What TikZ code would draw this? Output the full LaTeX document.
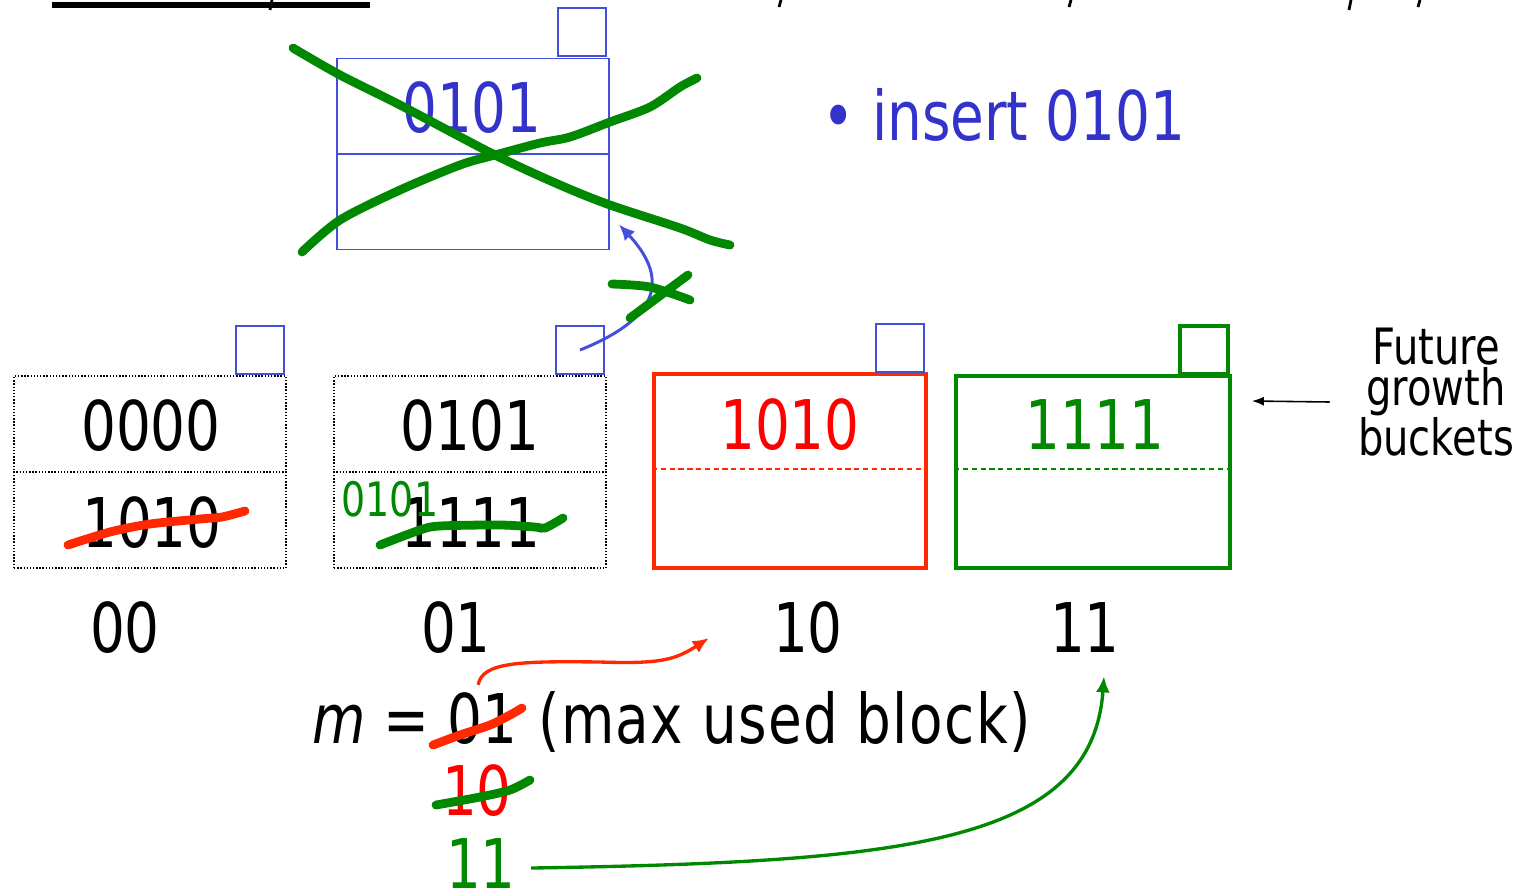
\documentclass[tikz,border=0pt]{standalone}
\usepackage{fontspec}
\setmainfont{DejaVu Sans}[FakeStretch=0.8]
\usetikzlibrary{arrows.meta, positioning, calc}
\definecolor{blu}{RGB}{51,51,204}
\definecolor{bluln}{RGB}{68,80,220}
\definecolor{redd}{RGB}{255,40,0}
\definecolor{grn}{RGB}{0,136,0}
\newcommand{\bkfont}{\fontsize{39}{41}\selectfont}
\newcommand{\smfont}{\fontsize{27}{28}\selectfont}
\newcommand{\futfont}{\fontsize{28.5}{21.5}\selectfont}

\begin{document}
\begin{tikzpicture}[x=0.02cm, y=-0.02cm,
  bkt/.style={draw, minimum width=5.44cm, minimum height=3.84cm, inner sep=0pt},
  ptr/.style={draw, bluln, line width=1.2pt, minimum size=0.96cm, inner sep=0pt},
  dig/.style={font=\bkfont, inner sep=0pt, anchor=base},
  scr/.style={line width=5pt, line cap=round},
  arr/.style={-{Latex[length=3.2mm, width=2.8mm]}, line width=1.9pt}]
\useasboundingbox (0,0) rectangle (1522,894);

% cut-off title at the top
\fill (52,2) rectangle (370,8);
\foreach \tx/\th in {272/10, 781/7, 1071/7, 1351/10, 1420/7}
  \draw[line width=1.6pt] (\tx,0) -- (\tx-2,\th);

% overflow bucket (deleted)
\node[bkt, bluln, line width=1pt, minimum height=3.82cm] (top) at (473,154) {};
\draw[bluln, line width=1pt] (top.west) -- (top.east);
\node[ptr, line width=1pt] (ptop) at (582,32) {};
\node[dig, blu] (ktop) at (472,132) {0101};

% buckets
\node[bkt, densely dotted, line width=0.8pt] (b00) at (150,472) {};
\draw[densely dotted, line width=0.8pt] (b00.west) -- (b00.east);
\node[ptr] (p00) at (260,350) {};
\node[bkt, densely dotted, line width=0.8pt] (b01) at (470,472) {};
\draw[densely dotted, line width=0.8pt] (b01.west) -- (b01.east);
\node[ptr] (p01) at (580,350) {};
\node[bkt, redd, line width=2.2pt, minimum height=3.88cm] (b10) at (790,471) {};
\draw[redd, line width=1pt, dash pattern=on 3pt off 2pt] ([yshift=0.04cm]b10.west) -- ([yshift=0.04cm]b10.east);
\node[ptr] (p10) at (900,348) {};
\node[bkt, grn, line width=2.1pt, minimum width=5.48cm] (b11) at (1093,472) {};
\draw[grn, line width=1pt, dash pattern=on 3pt off 2pt] ([yshift=0.06cm]b11.west) -- ([yshift=0.06cm]b11.east);
\node[ptr, grn, line width=2pt] (p11) at (1204,350) {};

\node[dig] (k00a) at (151,450) {0000};
\node[dig] (k00b) at (152,547) {1010};
\node[dig] (k01a) at (470,450) {0101};
\node[dig] (k01b) at (471,547) {1111};
\node[dig, font=\smfont, grn] (k01c) at (390,516) {0101};
\node[dig, red] (k10a) at (790,449) {1010};
\node[dig, grn] (k11a) at (1095,449) {1111};

% bucket numbers
\node[dig] (l00) at (125,652) {00};
\node[dig] (l01) at (456,652) {01};
\node[dig] (l10) at (808,652) {10};
\node[dig] (l11) at (1085,652) {11};

% m line
\node[dig, anchor=base west] (meq) at (312,743) {\textit{m} =};
\node[dig, anchor=base west] (m01) at (447,743) {01};
\node[dig, anchor=base west, font=\bkfont\addfontfeature{LetterSpace=2}] (mtxt) at (538,743) {(max used block)};
\node[dig, red] (m10) at (477,815) {10};
\node[dig, grn] (m11) at (481,888) {11};

\node[font=\futfont, align=center, inner sep=0pt] (fut) at (1436,392) {Future\\growth\\buckets};
\node[font=\bkfont, blu, anchor=base west, inner sep=0pt] (ins) at (822,140) {• insert 0101};

% connectors
\coordinate (tgt) at ([shift={(9,-26)}]top.south east);
\draw[arr, bluln, line width=1.7pt] (p01.center) .. controls (640,326) and (680,290) .. (tgt);
\draw[arr, redd] ([xshift=-0.08cm,yshift=0.14cm]m01.north) .. controls (482,662) and (520,661) .. (600,662)
  .. controls (660,664) and (675,660) .. ([xshift=-1.28cm,yshift=-0.22cm]l10.west);
\draw[arr, grn] ([xshift=0.3cm,yshift=-0.1cm]m11.east) .. controls (900,862) and (1092,845) .. ([xshift=0.38cm,yshift=-0.48cm]l11.south);
\draw[-{Latex[length=2.4mm]}, line width=0.9pt] ([shift={(-28,10)}]fut.west) -- ([shift={(20,-71)}]b11.east);

% scribbles
\draw[scr, grn] plot[smooth] coordinates {(293,48) (340,75) (400,105) (495,155) (560,185) (610,205) (680,228) (710,240) (730,245)};
\draw[scr, grn] plot[smooth] coordinates {(302,252) (340,220) (400,190) (460,165) (495,155) (540,143) (570,137) (610,122) (650,107) (680,87) (697,78)};
\draw[scr, grn] plot[smooth] coordinates {(612,284) (650,287) (690,300)};
\draw[scr, grn] (630,318) -- (688,275);
\draw[scr, redd] plot[smooth] coordinates {(68,545) (110,532) (150,524) (200,519) (222,517) (245,511)};
\draw[scr, grn] plot[smooth] coordinates {(380,545) (420,530) (440,526) (500,525) (535,527) (545,528) (563,518)};
\draw[scr, redd] plot[smooth] coordinates {(433,745) (460,735) (490,725) (510,715) (522,708)};
\draw[scr, grn] plot[smooth] coordinates {(436,805) (480,797) (510,790) (530,780)};
\end{tikzpicture}
\end{document}
